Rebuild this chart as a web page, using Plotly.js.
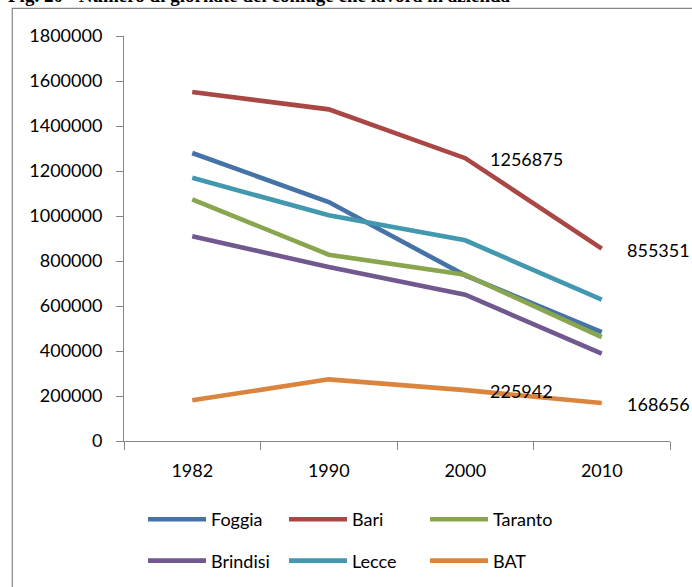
<!DOCTYPE html>
<html>
<head>
<meta charset="utf-8">
<script src="https://cdn.plot.ly/plotly-3.0.1.min.js"></script>
<style>html,body{margin:0;padding:0;background:#fff;}#chart{width:692px;height:587px;}</style>
</head>
<body>
<div id="chart"></div>
<script>
const years = ['1982', '1990', '2000', '2010'];
const seriesNames = ['Foggia', 'Bari', 'Taranto', 'Brindisi', 'Lecce', 'BAT'];
const foggia   = [1280000, 1062000, 736000, 484000];
const bari     = [1551000, 1474000, 1256875, 855351];
const taranto  = [1074000, 828000, 739000, 462000];
const brindisi = [910000, 773000, 650000, 388000];
const lecce    = [1170000, 1003000, 892000, 628000];
const bat      = [181000, 274000, 225942, 168656];
const yTicks = [0, 200000, 400000, 600000, 800000, 1000000, 1200000, 1400000, 1600000, 1800000];
const yTickLabels = ['0', '200000', '400000', '600000', '800000', '1000000', '1200000', '1400000', '1600000', '1800000'];
const titleText = 'Fig. 20 - Numero di giornate del coniuge che lavora in azienda';
// data labels shown: [series values, index of point]
const labelled = [[bari, 2], [bari, 3], [bat, 2], [bat, 3]];

const colors = ['#4572A7', '#AA4643', '#89A54E', '#71588F', '#4198AF', '#DB843D'];
const values = [foggia, bari, taranto, brindisi, lecce, bat];
const FONT = 'Lato, "Open Sans", sans-serif';

const traces = values.map((v, i) => ({
  type: 'scatter', mode: 'lines', name: seriesNames[i],
  x: years, y: v,
  line: {color: colors[i], width: 4.6},
  legend: i < 3 ? 'legend' : 'legend2',
  hoverinfo: 'skip'
}));

// on a category axis, annotation x is the category's serial number
const annotations = labelled.map(([arr, idx]) => ({
  xref: 'x', yref: 'y', x: idx, y: arr[idx],
  text: String(arr[idx]), showarrow: false,
  xanchor: 'left', yanchor: 'middle', xshift: 23, yshift: -1,
  font: {family: FONT, size: 18, color: '#000'}
}));
annotations.push({
  xref: 'paper', yref: 'paper', x: -0.216, y: 1.069,
  xanchor: 'left', yanchor: 'bottom', showarrow: false,
  text: '<b>' + titleText + '</b>',
  font: {family: '"Liberation Serif", "Times New Roman", serif', size: 19, color: '#000'}
});

const legendCommon = {
  orientation: 'h', xref: 'paper', yref: 'paper',
  xanchor: 'left', yanchor: 'middle',
  entrywidth: 68, entrywidthmode: 'pixels',
  itemwidth: 58, bgcolor: 'rgba(0,0,0,0)',
  font: {family: FONT, size: 18, color: '#000'},
  traceorder: 'normal'
};

const layout = {
  width: 692, height: 587,
  margin: {l: 124, r: 22, t: 36, b: 146, pad: 0, autoexpand: false},
  paper_bgcolor: '#fff', plot_bgcolor: '#fff',
  font: {family: FONT, size: 18, color: '#000'},
  showlegend: true,
  legend: Object.assign({}, legendCommon, {x: 0.0348, y: -0.194}),
  legend2: Object.assign({}, legendCommon, {x: 0.0348, y: -0.296}),
  xaxis: {
    type: 'category', range: [-0.5, 3.5], fixedrange: true, automargin: false,
    showline: true, linecolor: '#868686', linewidth: 1,
    ticks: 'outside', tickson: 'boundaries', ticklen: 8, tickcolor: '#868686', tickwidth: 1,
    showgrid: false, zeroline: false, ticklabelstandoff: 13,
    tickfont: {family: FONT, size: 18, color: '#000'}
  },
  yaxis: {
    range: [0, 1800000], fixedrange: true, automargin: false,
    tickmode: 'array', tickvals: yTicks, ticktext: yTickLabels,
    showline: true, linecolor: '#868686', linewidth: 1,
    ticks: 'outside', ticklen: 7, tickcolor: '#868686', tickwidth: 1,
    showgrid: false, zeroline: false, ticklabelstandoff: 10,
    tickfont: {family: FONT, size: 18, color: '#000'}
  },
  annotations: annotations,
  shapes: [{
    type: 'rect', xref: 'paper', yref: 'paper',
    x0: -0.2046, x1: 1.2, y0: -0.5, y1: 1.0684,
    line: {color: '#868686', width: 1.2}, fillcolor: 'rgba(0,0,0,0)', layer: 'below'
  }]
};

Plotly.newPlot('chart', traces, layout, {staticPlot: true, displayModeBar: false});
</script>
</body>
</html>
